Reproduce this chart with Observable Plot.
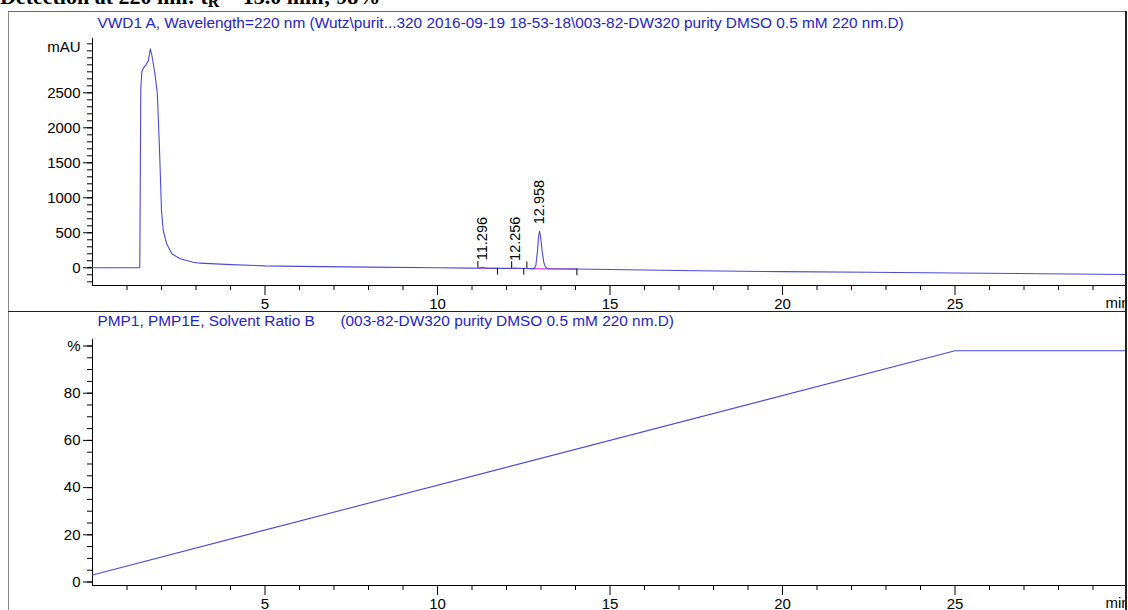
<!DOCTYPE html>
<html><head><meta charset="utf-8">
<script src="https://cdn.jsdelivr.net/npm/d3@7"></script>
<script src="https://cdn.jsdelivr.net/npm/@observablehq/plot@0.6"></script>
<style>
body{margin:0;background:#fff;}
#wrap{position:relative;width:1128px;height:610px;overflow:hidden;background:#fff;font-family:"Liberation Sans",Arial,sans-serif;}
#detect{position:absolute;left:0;top:-14px;font:bold 22px/22px "Liberation Serif","Times New Roman",serif;color:#000;white-space:nowrap;}
#detect sub{font-size:72%;line-height:0;vertical-align:-0.22em;}
#p1{position:absolute;left:0;top:11px;}
#p2{position:absolute;left:0;top:311px;}
.ln{position:absolute;}
</style></head><body>
<div id="wrap">
  <div id="detect">Detection at 220 nm: t<sub>R</sub> = 13.0 min; 98%</div>
  <div id="p1"></div>
  <div id="p2"></div>
  <div class="ln" style="left:8px;top:11px;width:1px;height:600px;background:#8a8a8a;"></div>
  <div class="ln" style="left:8px;top:11px;width:1118px;height:1px;background:#6a6a6a;"></div>
  <div class="ln" style="left:8px;top:311px;width:1118px;height:1px;background:#222;"></div>
  <div class="ln" style="left:1125px;top:11px;width:3px;height:600px;background:#fff;border-left:2px solid #222;box-sizing:border-box;"></div>
</div>
<script>
// ---- Chromatogram (VWD1 A, 220 nm) ----
const chromTime = [0, 1.37, 1.40, 1.43, 1.47, 1.55, 1.62, 1.675, 1.72, 1.81, 1.88, 1.94, 2.00, 2.05, 2.15, 2.30, 2.54, 2.92, 3.12, 4.0, 5.0, 6.0, 8.0, 10.0, 11.0, 11.2, 11.296, 11.4, 11.8, 12.2, 12.256, 12.32, 12.6, 12.8, 12.85, 12.90, 12.93, 12.958, 12.99, 13.03, 13.08, 13.13, 13.2, 14.0, 15.0, 17.5, 20.0, 22.5, 25.0, 27.5, 30.0];
const chromAbs  = [0, 0, 2560, 2800, 2850, 2900, 2960, 3128, 3040, 2771, 2486, 1723, 819, 533, 343, 200, 129, 80, 66, 45, 27, 20, 10, 0, -5, -6, 8, -6, -8, -9, -2, -9, -11, -12, 30, 250, 450, 522, 440, 250, 80, 10, -13, -18, -25, -42, -55, -64, -75, -85, -95];

// peak labels (retention times)
const peakTimes  = [11.296, 12.256, 12.958];
const peakApex   = [8, -2, 522];
const peakLabels = ["11.296", "12.256", "12.958"];

// integration baselines
const baseStartT = [11.17, 12.15, 12.59];
const baseStartV = [-6, -9, -11];
const baseEndT   = [11.74, 12.50, 14.04];
const baseEndV   = [-8, -10, -18];

// ---- Solvent ratio B (PMP1) ----
const gradTime = [0, 25, 30];
const gradB    = [3, 98, 98];

// ---- ticks ----
const xMajor = [5, 10, 15, 20, 25];
const xMinor = [1,2,3,4,6,7,8,9,11,12,13,14,16,17,18,19,21,22,23,24,26,27,28,29];
const yMajorTop = [0, 500, 1000, 1500, 2000, 2500];
const yMinorTop = d3.range(-200, 3201, 100);
const yMajorBot = [0, 20, 40, 60, 80, 100];
const yMinorBot = d3.range(0, 101, 5);

const topTitle = "VWD1 A, Wavelength=220 nm (Wutz\\purit...320 2016-09-19 18-53-18\\003-82-DW320 purity DMSO 0.5 mM 220 nm.D)";
const botTitle = "PMP1, PMP1E, Solvent Ratio B\u00a0\u00a0\u00a0\u00a0\u00a0\u00a0(003-82-DW320 purity DMSO 0.5 mM 220 nm.D)";

const FONT = '"Liberation Sans", Arial, sans-serif';
const LINE = "#4a4ad8";
const TITLE = "#2424c4";
const AX = 15, TT = 15.4;

const chrom = chromTime.map((t, i) => ({t, v: chromAbs[i]}));
const peaks = peakTimes.map((t, i) => ({t, v: peakApex[i], label: peakLabels[i]}));
const bases = baseStartT.map((t, i) => ({x1: t, y1: baseStartV[i], x2: baseEndT[i], y2: baseEndV[i]}));
const markers = [
  ...baseStartT.map((t, i) => ({t, y1: baseStartV[i], y2: baseStartV[i] + 95})),
  ...baseEndT.map((t, i) => ({t, y1: baseEndV[i], y2: baseEndV[i] - 95}))
];
const grad = gradTime.map((t, i) => ({t, v: gradB[i]}));

const yDomTop = [-253, 3276];
const yDomBot = [-1.48, 102.75];

const p1 = Plot.plot({
  width: 1128, height: 300,
  marginLeft: 92, marginRight: 1, marginTop: 27, marginBottom: 26,
  style: {fontFamily: FONT, fontSize: AX + "px", color: "#000", background: "transparent", overflow: "visible"},
  x: {domain: [0, 30]},
  y: {domain: yDomTop},
  marks: [
    Plot.axisX(xMinor, {tickSize: 5, tickFormat: () => "", label: null}),
    Plot.axisX(xMajor, {tickSize: 10, tickPadding: 3, tickFormat: d => String(d), label: null, fontSize: AX}),
    Plot.axisY(yMinorTop, {tickSize: 5, tickFormat: () => "", label: null}),
    Plot.axisY(yMajorTop, {tickSize: 9, tickPadding: 3, tickFormat: d => String(d), label: null, fontSize: AX}),
    Plot.ruleX([0], {stroke: "#000"}),
    Plot.ruleY([yDomTop[0]], {stroke: "#000"}),
    Plot.link(bases, {x1: "x1", y1: "y1", x2: "x2", y2: "y2", stroke: "#e040c8", strokeWidth: 1.2}),
    Plot.line(chrom, {x: "t", y: "v", stroke: LINE, strokeWidth: 1.1}),
    Plot.ruleX(markers, {x: "t", y1: "y1", y2: "y2", stroke: "#000", strokeWidth: 1}),
    Plot.text(peaks, {x: "t", y: "v", text: "label", rotate: -90, textAnchor: "start", lineAnchor: "middle", dy: -7, fontSize: 14.5, fill: "#000"}),
    Plot.text(["mAU"], {frameAnchor: "top-left", dx: -12, dy: 9, textAnchor: "end", lineAnchor: "middle", fontSize: AX, fill: "#000"}),
    Plot.text(["min"], {frameAnchor: "bottom-right", dx: -22, dy: 18, textAnchor: "start", lineAnchor: "middle", fontSize: AX, fill: "#000"}),
    Plot.text([topTitle], {frameAnchor: "top-left", dx: 5, dy: -15, textAnchor: "start", lineAnchor: "middle", fontSize: TT, fill: TITLE})
  ]
});
document.getElementById("p1").appendChild(p1);

const p2 = Plot.plot({
  width: 1128, height: 299,
  marginLeft: 92, marginRight: 1, marginTop: 28, marginBottom: 25,
  style: {fontFamily: FONT, fontSize: AX + "px", color: "#000", background: "transparent", overflow: "visible"},
  x: {domain: [0, 30]},
  y: {domain: yDomBot},
  marks: [
    Plot.axisX(xMinor, {tickSize: 5, tickFormat: () => "", label: null}),
    Plot.axisX(xMajor, {tickSize: 10, tickPadding: 3, tickFormat: d => String(d), label: null, fontSize: AX}),
    Plot.axisY(yMinorBot, {tickSize: 5, tickFormat: () => "", label: null}),
    Plot.axisY(yMajorBot, {tickSize: 9, tickPadding: 3, tickFormat: d => d === 100 ? "%" : String(d), label: null, fontSize: AX}),
    Plot.ruleX([0], {stroke: "#000"}),
    Plot.ruleY([yDomBot[0]], {stroke: "#000"}),
    Plot.line(grad, {x: "t", y: "v", stroke: LINE, strokeWidth: 1.1}),
    Plot.text(["min"], {frameAnchor: "bottom-right", dx: -22, dy: 18, textAnchor: "start", lineAnchor: "middle", fontSize: AX, fill: "#000"}),
    Plot.text([botTitle], {frameAnchor: "top-left", dx: 5, dy: -18, textAnchor: "start", lineAnchor: "middle", fontSize: TT, fill: TITLE})
  ]
});
document.getElementById("p2").appendChild(p2);
</script>
</body></html>
